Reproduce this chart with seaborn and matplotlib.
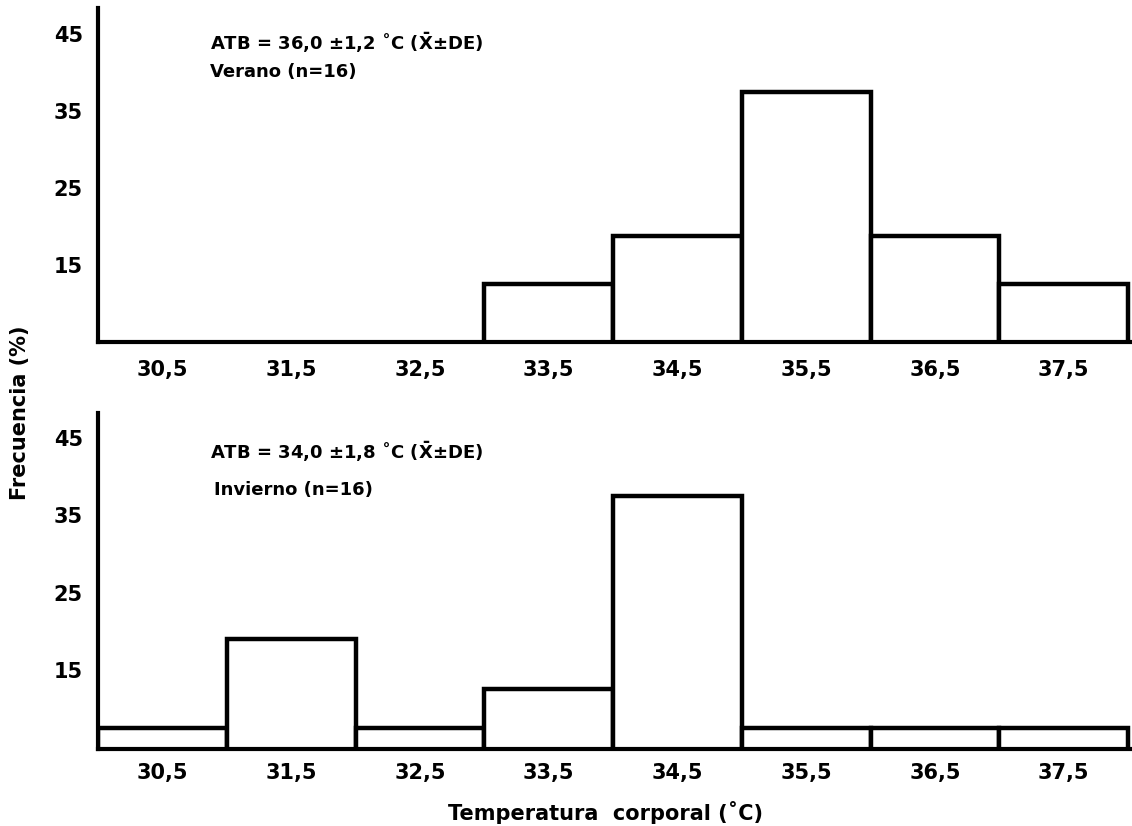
import numpy as np
import pandas as pd
import matplotlib
matplotlib.use("Agg")
import matplotlib.pyplot as plt
import seaborn as sns

# ---- data ----
bin_centers = [30.5, 31.5, 32.5, 33.5, 34.5, 35.5, 36.5, 37.5]
tick_labels = ["30,5", "31,5", "32,5", "33,5", "34,5", "35,5", "36,5", "37,5"]
verano_pct = [0, 0, 0, 12.5, 18.75, 37.5, 18.75, 12.5]
invierno_pct = [7.5, 19.0, 7.5, 12.5, 37.5, 7.5, 7.5, 7.5]
y_ticks = [15, 25, 35, 45]
y_tick_labels = ["15", "25", "35", "45"]
verano_text = ["ATB = 36,0 \u00b11,2 \u02daC ($\\mathbf{\\bar{X}}$\u00b1DE)", "Verano (n=16)"]
invierno_text = ["ATB = 34,0 \u00b11,8 \u02daC ($\\mathbf{\\bar{X}}$\u00b1DE)", "Invierno (n=16)"]
xlabel = "Temperatura  corporal (\u02daC)"
ylabel = "Frecuencia (%)"

sns.set_style("white")
plt.rcParams["font.family"] = ["DejaVu Sans"]
plt.rcParams["font.weight"] = "bold"
plt.rcParams["mathtext.default"] = "bf"
for key in ["text.color", "axes.labelcolor", "xtick.color", "ytick.color"]:
    plt.rcParams[key] = "black"

fig = plt.figure(figsize=(11.32, 8.26), dpi=100)
ax1 = fig.add_axes([0.0866, 0.586, 1 - 0.0866, 0.404])
ax2 = fig.add_axes([0.0866, 0.0932, 1 - 0.0866, 0.407])

brange = (bin_centers[0] - 0.5, bin_centers[-1] + 0.5)

panels = [
    (ax1, verano_pct, (5.0, 48.4), 13),
    (ax2, invierno_pct, (4.8, 48.2), 10),
]
for ax, vals, ylim, xpad in panels:
    df = pd.DataFrame({"temp": bin_centers, "pct": vals})
    sns.histplot(data=df, x="temp", weights="pct", binwidth=1, binrange=brange,
                 ax=ax, color="white", edgecolor="black", linewidth=3.2, alpha=1)
    ax.set_xlim(30, 38.03)
    ax.set_ylim(*ylim)
    ax.set_ylabel("")
    ax.set_xlabel("")
    sns.despine(ax=ax)
    for s in ["left", "bottom"]:
        ax.spines[s].set_linewidth(3.0)
        ax.spines[s].set_color("black")
    ax.set_xticks(bin_centers)
    ax.set_xticklabels(tick_labels, fontsize=15, fontweight="bold", color="black")
    ax.set_yticks(y_ticks)
    ax.set_yticklabels(y_tick_labels, fontsize=15, fontweight="bold", color="black")
    ax.tick_params(axis="x", direction="in", length=8, width=1.8, pad=xpad, color="black")
    ax.tick_params(axis="y", direction="in", length=8, width=1.8, pad=11, color="black")
    ax.patch.set_alpha(0)

ax1.text(0.108, 0.898, verano_text[0], transform=ax1.transAxes, fontsize=13,
         fontweight="bold", va="center", ha="left", color="black")
ax1.text(0.108, 0.808, verano_text[1], transform=ax1.transAxes, fontsize=13,
         fontweight="bold", va="center", ha="left", color="black")
ax2.text(0.108, 0.884, invierno_text[0], transform=ax2.transAxes, fontsize=13,
         fontweight="bold", va="center", ha="left", color="black")
ax2.text(0.112, 0.771, invierno_text[1], transform=ax2.transAxes, fontsize=13,
         fontweight="bold", va="center", ha="left", color="black")

fig.text(605 / 1132, 1 - 812 / 826, xlabel, fontsize=15, fontweight="bold",
         ha="center", va="center", color="black")
fig.text(20 / 1132, 0.5, ylabel, fontsize=15, fontweight="bold",
         ha="center", va="center", rotation=90, color="black")

fig.savefig("out.png", dpi=100)
